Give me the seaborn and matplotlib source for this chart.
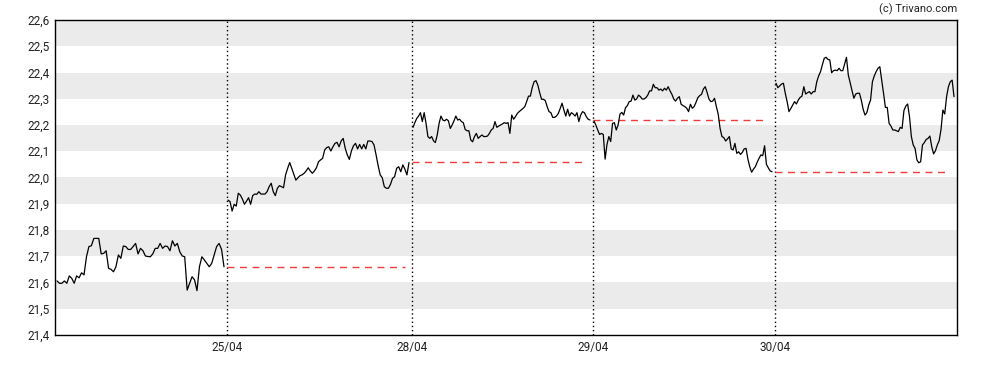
import matplotlib
matplotlib.use('Agg')
import matplotlib.pyplot as plt
import seaborn as sns
import numpy as np
import pandas as pd


DAY_LABELS = ['24/04', '25/04', '28/04', '29/04', '30/04']
# session lengths on the x axis (first day is partly cut off)
DAY_WIDTHS = [172, 185, 181, 182, 182]

day1 = [21.606, 21.597, 21.597, 21.606, 21.597, 21.625, 21.616, 21.597, 21.625, 21.618,
        21.637, 21.629, 21.698, 21.737, 21.740, 21.768, 21.768, 21.768, 21.709, 21.711,
        21.721, 21.654, 21.650, 21.641, 21.660, 21.705, 21.692, 21.739, 21.737, 21.726,
        21.726, 21.737, 21.749, 21.709, 21.730, 21.721, 21.701, 21.699, 21.698, 21.709,
        21.730, 21.730, 21.749, 21.730, 21.739, 21.737, 21.721, 21.759, 21.739, 21.749,
        21.717, 21.701, 21.698, 21.571, 21.597, 21.622, 21.610, 21.569, 21.660, 21.698,
        21.686, 21.673, 21.660, 21.673, 21.705, 21.737, 21.749, 21.726, 21.660]

day2 = [21.914, 21.908, 21.872, 21.898, 21.891, 21.940, 21.933, 21.918, 21.898, 21.910,
        21.923, 21.898, 21.931, 21.937, 21.936, 21.946, 21.937, 21.937, 21.937, 21.946,
        21.965, 21.978, 21.946, 21.931, 21.959, 21.969, 21.965, 21.961, 22.010, 22.035,
        22.057, 22.035, 22.012, 21.990, 21.999, 22.007, 22.010, 22.016, 22.025, 22.037,
        22.025, 22.016, 22.025, 22.037, 22.060, 22.067, 22.073, 22.105, 22.114, 22.117,
        22.101, 22.117, 22.130, 22.134, 22.117, 22.139, 22.149, 22.111, 22.086, 22.069,
        22.101, 22.121, 22.130, 22.109, 22.126, 22.109, 22.126, 22.109, 22.139, 22.139,
        22.137, 22.124, 22.086, 22.045, 22.010, 21.999, 21.965, 21.959, 21.959, 21.974,
        21.997, 22.003, 22.035, 22.041, 22.022, 22.048, 22.032, 22.010, 22.057]

day3 = [22.191, 22.209, 22.225, 22.234, 22.247, 22.213, 22.247, 22.206, 22.156, 22.149,
        22.156, 22.140, 22.133, 22.162, 22.206, 22.234, 22.219, 22.216, 22.222, 22.216,
        22.187, 22.200, 22.216, 22.234, 22.219, 22.222, 22.213, 22.209, 22.183, 22.178,
        22.178, 22.143, 22.136, 22.156, 22.168, 22.149, 22.156, 22.162, 22.156, 22.156,
        22.158, 22.168, 22.181, 22.187, 22.213, 22.191, 22.196, 22.200, 22.204, 22.209,
        22.206, 22.209, 22.168, 22.238, 22.222, 22.232, 22.244, 22.251, 22.257, 22.263,
        22.270, 22.289, 22.310, 22.310, 22.343, 22.365, 22.369, 22.352, 22.323, 22.298,
        22.298, 22.293, 22.270, 22.251, 22.247, 22.229, 22.229, 22.234, 22.244, 22.263,
        22.283, 22.257, 22.234, 22.260, 22.234, 22.247, 22.242, 22.234, 22.247, 22.213,
        22.238, 22.251, 22.247, 22.232, 22.222, 22.219]

day4 = [22.215, 22.200, 22.181, 22.164, 22.168, 22.164, 22.070, 22.126, 22.156, 22.137,
        22.206, 22.209, 22.181, 22.200, 22.241, 22.248, 22.238, 22.266, 22.274, 22.289,
        22.291, 22.314, 22.295, 22.299, 22.314, 22.308, 22.299, 22.299, 22.304, 22.314,
        22.330, 22.330, 22.355, 22.342, 22.342, 22.333, 22.337, 22.330, 22.340, 22.333,
        22.346, 22.330, 22.317, 22.299, 22.291, 22.302, 22.308, 22.279, 22.274, 22.270,
        22.264, 22.251, 22.279, 22.264, 22.270, 22.286, 22.304, 22.312, 22.317, 22.337,
        22.346, 22.324, 22.299, 22.289, 22.291, 22.302, 22.270, 22.241, 22.187, 22.156,
        22.152, 22.139, 22.147, 22.156, 22.109, 22.105, 22.130, 22.092, 22.098, 22.088,
        22.096, 22.109, 22.111, 22.070, 22.041, 22.020, 22.032, 22.041, 22.058, 22.073,
        22.086, 22.083, 22.121, 22.050, 22.037, 22.025, 22.022]

day5 = [22.359, 22.342, 22.349, 22.356, 22.359, 22.321, 22.289, 22.251, 22.263, 22.276,
        22.289, 22.280, 22.295, 22.305, 22.310, 22.346, 22.318, 22.323, 22.327, 22.318,
        22.327, 22.327, 22.365, 22.387, 22.403, 22.429, 22.454, 22.458, 22.450, 22.448,
        22.399, 22.407, 22.409, 22.407, 22.416, 22.407, 22.407, 22.432, 22.458, 22.390,
        22.361, 22.331, 22.302, 22.318, 22.321, 22.321, 22.295, 22.260, 22.238, 22.247,
        22.276, 22.295, 22.365, 22.387, 22.403, 22.416, 22.422, 22.371, 22.321, 22.267,
        22.267, 22.206, 22.196, 22.181, 22.181, 22.178, 22.175, 22.191, 22.187, 22.255,
        22.272, 22.280, 22.232, 22.156, 22.124, 22.111, 22.067, 22.056, 22.060, 22.124,
        22.133, 22.145, 22.149, 22.158, 22.117, 22.090, 22.102, 22.124, 22.140, 22.183,
        22.257, 22.242, 22.308, 22.346, 22.365, 22.371, 22.308]

# previous close shown as red dashed reference for days 2..5
prev_close = [21.66, 22.06, 22.22, 22.02]

days = [day1, day2, day3, day4, day5]
bounds = np.concatenate([[0], np.cumsum(DAY_WIDTHS)])


def build_frame():
    frames = []
    for k, vals in enumerate(days):
        lo, hi = bounds[k], bounds[k + 1]
        start = lo + 2 if k == 0 else lo + 1
        x = np.linspace(start, hi - 3, len(vals))
        frames.append(pd.DataFrame({'x': x, 'price': vals, 'day': DAY_LABELS[k]}))
    return pd.concat(frames, ignore_index=True)


sns.set_theme(style='white')
plt.rcParams['font.family'] = ['Roboto', 'DejaVu Sans']

df = build_frame()

fig = plt.figure(figsize=(9.88, 3.70), dpi=100)
ax = fig.add_axes([55 / 988, 35 / 370, 902 / 988, 315 / 370])

# alternating horizontal bands
for lo in np.arange(21.5, 22.6, 0.2):
    ax.axhspan(lo, lo + 0.1, color='#ebebeb', lw=0, zorder=0)

for k in range(1, len(days)):
    ax.axvline(bounds[k], color='black', ls=(0, (1, 2)), lw=1, zorder=1)
    ax.plot([bounds[k], bounds[k + 1] - 7], [prev_close[k - 1]] * 2, color='#f03c3c',
            ls=(0, (5, 4)), lw=1, zorder=2)

for label, grp in df.groupby('day', sort=False):
    sns.lineplot(data=grp, x='x', y='price', ax=ax, color='black', lw=0.9,
                 zorder=3, estimator=None)

ax.set_xlim(bounds[0], bounds[-1])
ax.set_ylim(21.4, 22.6)
yt = np.round(np.arange(21.4, 22.61, 0.1), 1)
ax.set_yticks(yt)
ax.set_yticklabels([f'{v:.1f}'.replace('.', ',') for v in yt])
ax.set_xticks(bounds[1:-1])
ax.set_xticklabels(DAY_LABELS[1:])
ax.tick_params(axis='both', length=0, labelsize=8.5, colors='#222222', pad=4)
ax.set_xlabel('')
ax.set_ylabel('')
for s in ax.spines.values():
    s.set_color('black')
    s.set_linewidth(1)

fig.text(957 / 988, 1 - 9 / 370, '(c) Trivano.com', ha='right', va='center',
         fontsize=8, color='#222222')

fig.savefig('out.png', dpi=100)
